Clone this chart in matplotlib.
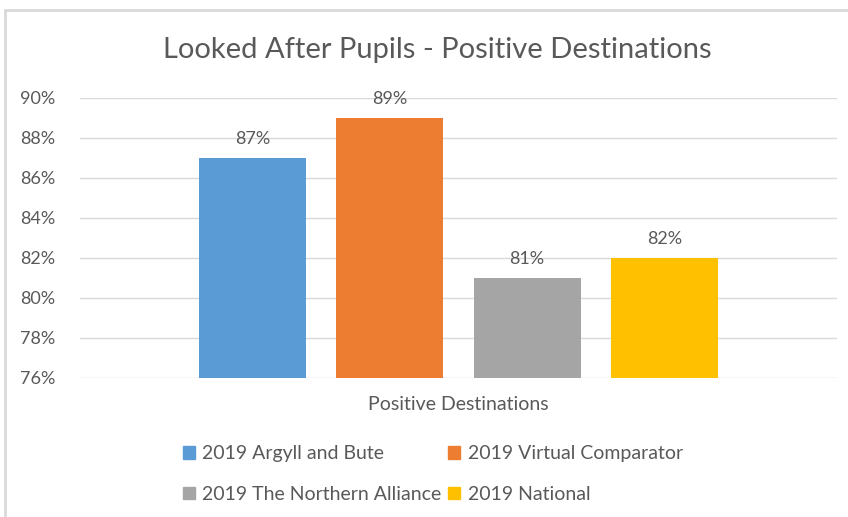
import matplotlib
matplotlib.use('Agg')
import matplotlib.pyplot as plt
from matplotlib.patches import Rectangle, Patch
from matplotlib.ticker import FuncFormatter

# data
series = ['2019 Argyll and Bute', '2019 Virtual Comparator',
          '2019 The Northern Alliance', '2019 National']
values = [87, 89, 81, 82]
category = 'Positive Destinations'
colors = ['#5B9BD5', '#ED7D31', '#A5A5A5', '#FFC000']

plt.rcParams['font.family'] = ['Lato', 'DejaVu Sans']
txt = '#595959'

fig = plt.figure(figsize=(8.48, 5.17), dpi=100)
ax = fig.add_axes([80/848, 1-378/517, 757/848, 280/517])

pos = list(range(len(values)))
ax.bar(pos, values, width=0.78, color=colors, zorder=3)
for p, v in zip(pos, values):
    ax.annotate('%d%%' % v, (p, v), xytext=(0, 8), textcoords='offset points',
                ha='center', va='bottom', fontsize=13, color=txt)

ax.set_ylim(76, 90)
ax.set_yticks(range(76, 91, 2))
ax.yaxis.set_major_formatter(FuncFormatter(lambda y, _: '%d%%' % y))
ax.set_xlim(-1.26, 4.26)
ax.set_xticks([1.5])
ax.set_xticklabels([category])
ax.tick_params(axis='both', length=0, labelsize=13, colors=txt)
ax.tick_params(axis='y', pad=18)
ax.tick_params(axis='x', labelsize=14, pad=13)
ax.grid(axis='y', color='#D9D9D9', linewidth=1, zorder=0)
for s in ax.spines.values():
    s.set_visible(False)

fig.text(437/848, 1-50/517, 'Looked After Pupils - Positive Destinations',
         ha='center', va='center', fontsize=21, color=txt)

handles = [Patch(color=c) for c in colors]
order = [0, 2, 1, 3]
fig.legend([handles[i] for i in order], [series[i] for i in order],
           ncol=2, loc='center', bbox_to_anchor=(433/848, 1-474/517),
           frameon=False, fontsize=14, labelcolor=txt,
           handlelength=0.6, handleheight=0.6, handletextpad=0.4,
           columnspacing=0.35, labelspacing=1.2)

fig.patches.append(Rectangle((5/848, -0.1), 1.2, 1 - 10/517 + 0.1,
                             transform=fig.transFigure, fill=False,
                             edgecolor='#D9D9D9', linewidth=2))

fig.savefig('out.png', dpi=100)
